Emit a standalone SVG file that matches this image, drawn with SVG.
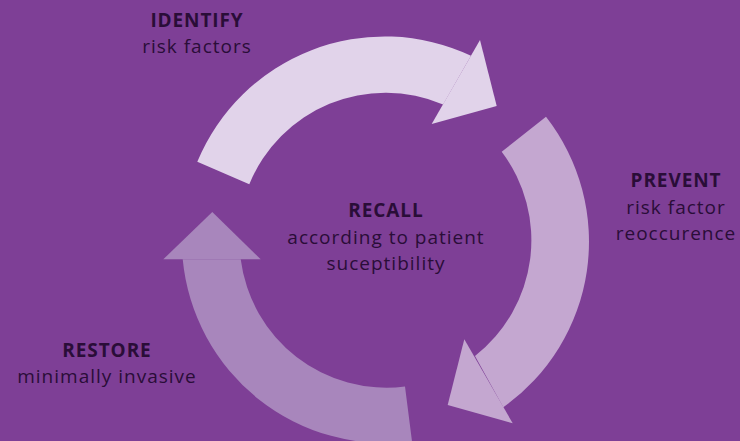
<svg xmlns="http://www.w3.org/2000/svg" width="740" height="441" viewBox="0 0 740 441">
  <style>
    .t { font-family: "Open Sans", "Liberation Sans", sans-serif; font-size: 19px; fill: #2A0D38; text-anchor: middle; letter-spacing: 1px; }
    .b { font-weight: bold; letter-spacing: 0.9px; }
    .a1 { fill: #E1D3EA; }
    .a2 { fill: #C4A7D0; }
    .a3 { fill: #A886BC; }
  </style>
  <rect width="740" height="441" fill="#7E3F96"/>
  <g id="connectors">
    <g id="arrow-identify-prevent">
      <path class="a1" d="M197.3,161.7 A203,203 0 0 1 471,55.7 L443.1,104.5 A147,147 0 0 0 249.3,184.3 Z"/>
      <path class="a1" d="M480,40 L496.7,106 L431.7,124 Z"/>
    </g>
    <g id="arrow-prevent-restore">
      <path class="a2" d="M546,116.7 A203,203 0 0 1 503.3,407.3 L475,356 A147,147 0 0 0 501.7,151.7 Z"/>
      <path class="a2" d="M512.7,423.3 L447.7,405 L464.3,339.3 Z"/>
    </g>
    <g id="arrow-restore-identify">
      <path class="a3" d="M412,441.3 A203,203 0 0 1 182.7,259.3 L240.7,259.3 A147,147 0 0 0 405,386.5 Z"/>
      <path class="a3" d="M163.3,259.3 L212.3,212 L260.7,259.3 Z"/>
    </g>
  </g>
  <g id="identify">
    <text class="t b" x="197" y="27">IDENTIFY</text>
    <text class="t" x="197" y="53">risk factors</text>
  </g>
  <g id="prevent">
    <text class="t b" x="676" y="187">PREVENT</text>
    <text class="t" x="676" y="214">risk factor</text>
    <text class="t" x="676" y="240">reoccurence</text>
  </g>
  <g id="recall">
    <text class="t b" x="386" y="217">RECALL</text>
    <text class="t" x="386" y="244">according to patient</text>
    <text class="t" x="386" y="270">suceptibility</text>
  </g>
  <g id="restore">
    <text class="t b" x="107" y="357">RESTORE</text>
    <text class="t" x="107" y="383">minimally invasive</text>
  </g>
</svg>
